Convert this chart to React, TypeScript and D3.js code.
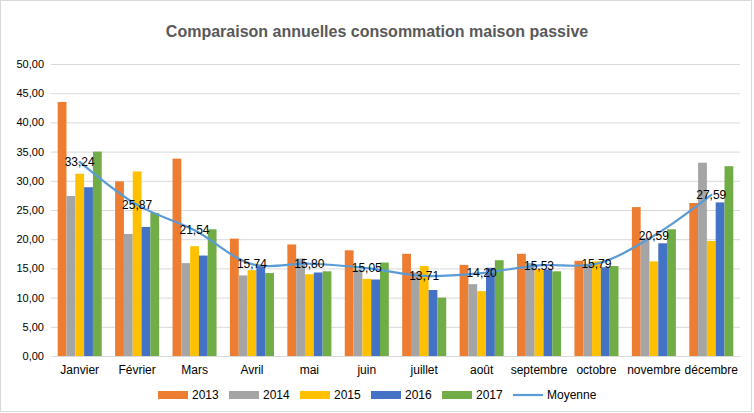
import React, { useEffect, useRef } from 'react';
import * as d3 from 'd3';

const months = [
  'Janvier', 'Février', 'Mars', 'Avril', 'mai', 'juin',
  'juillet', 'août', 'septembre', 'octobre', 'novembre', 'décembre',
];
const years = ['2013', '2014', '2015', '2016', '2017'];

const v2013 = [43.5, 29.9, 33.8, 20.1, 19.1, 18.1, 17.5, 15.6, 17.5, 16.3, 25.5, 26.2];
const v2014 = [27.4, 20.9, 15.9, 13.8, 16.7, 14.8, 14.3, 12.3, 15.9, 15.8, 20.2, 33.1];
const v2015 = [31.2, 31.6, 18.8, 14.7, 14.0, 13.2, 15.4, 11.1, 14.9, 16.2, 16.2, 19.7];
const v2016 = [28.9, 22.1, 17.2, 15.6, 14.3, 13.1, 11.3, 15.1, 14.8, 15.2, 19.3, 26.3];
const v2017 = [35.0, 24.5, 21.7, 14.2, 14.5, 16.0, 10.0, 16.4, 14.5, 15.4, 21.7, 32.5];
const moyenne = [33.24, 25.87, 21.54, 15.74, 15.8, 15.05, 13.71, 14.2, 15.53, 15.79, 20.59, 27.59];

const yTicks = [0, 5, 10, 15, 20, 25, 30, 35, 40, 45, 50];

const series = [v2013, v2014, v2015, v2016, v2017];
const colors = ['#ED7D31', '#A5A5A5', '#FFC000', '#4472C4', '#70AD47'];
const lineColor = '#5B9BD5';

const W = 754;
const H = 413;
const margin = { top: 64, left: 51, right: 14, bottom: 57 };

const fmt = (v: number) => v.toFixed(2).replace('.', ',');

const App: React.FC = () => {
  const ref = useRef<SVGSVGElement>(null);

  useEffect(() => {
    if (!ref.current) return;
    const svg = d3.select(ref.current);
    svg.selectAll('*').remove();

    const font = '"Liberation Sans", Arial, sans-serif';
    const x1 = W - margin.right;
    const y1 = H - margin.bottom;

    svg.append('rect')
      .attr('x', 0.5).attr('y', 0.5)
      .attr('width', W - 3).attr('height', H - 2)
      .attr('fill', '#fff').attr('stroke', '#D9D9D9');

    svg.append('text')
      .attr('x', 377).attr('y', 37)
      .attr('text-anchor', 'middle')
      .attr('font-family', font)
      .attr('font-weight', 'bold')
      .attr('font-size', 16)
      .attr('fill', '#595959')
      .text('Comparaison annuelles consommation maison passive');

    const x = d3.scaleBand<string>().domain(months).range([margin.left, x1]);
    const xs = d3.scaleBand<string>().domain(years)
      .range([0, x.bandwidth()]).paddingInner(0).paddingOuter(0.76);
    const y = d3.scaleLinear().domain([0, 50]).range([y1, margin.top]);

    const yAxisG = svg.append('g').attr('transform', `translate(${margin.left},0)`);
    yAxisG.call(
      d3.axisLeft(y).tickValues(yTicks).tickSize(-(x1 - margin.left)).tickPadding(7)
        .tickFormat((d) => fmt(d as number))
    );
    yAxisG.select('.domain').remove();
    yAxisG.selectAll('.tick line').attr('stroke', '#D9D9D9');
    yAxisG.selectAll('.tick text')
      .attr('font-family', font).attr('font-size', 11).attr('fill', '#000');

    const groups = svg.append('g').selectAll('g')
      .data(months)
      .enter().append('g')
      .attr('transform', (d) => `translate(${x(d)},0)`);

    groups.selectAll('rect')
      .data((_, i) => series.map((s, k) => ({ year: years[k], value: s[i], k })))
      .enter().append('rect')
      .attr('x', (d) => xs(d.year) || 0)
      .attr('width', xs.bandwidth())
      .attr('y', (d) => y(d.value))
      .attr('height', (d) => y1 - y(d.value))
      .attr('fill', (d) => colors[d.k]);

    const xAxisG = svg.append('g').attr('transform', `translate(0,${y1})`);
    xAxisG.call(d3.axisBottom(x).tickSize(0).tickPadding(9));
    xAxisG.select('.domain').attr('stroke', '#D9D9D9');
    xAxisG.selectAll('.tick text')
      .attr('font-family', font).attr('font-size', 12).attr('fill', '#000');

    const cx = (m: string) => (x(m) || 0) + x.bandwidth() / 2;
    const line = d3.line<number>()
      .x((_, i) => cx(months[i]))
      .y((d) => y(d))
      .curve(d3.curveCatmullRom.alpha(0.5));

    svg.append('path')
      .attr('d', line(moyenne) || '')
      .attr('fill', 'none')
      .attr('stroke', lineColor)
      .attr('stroke-width', 2.2)
      .attr('stroke-linejoin', 'round')
      .attr('stroke-linecap', 'round');

    svg.append('g').selectAll('text')
      .data(moyenne)
      .enter().append('text')
      .attr('x', (_, i) => cx(months[i]))
      .attr('y', (d) => y(d))
      .attr('dy', '0.35em')
      .attr('text-anchor', 'middle')
      .attr('font-family', font)
      .attr('font-size', 12)
      .attr('fill', '#000')
      .text((d) => fmt(d));

    // legend
    const legendItems = [...years, 'Moyenne'];
    const lg = svg.append('g').selectAll('g')
      .data(legendItems)
      .enter().append('g')
      .attr('transform', (_, i) => `translate(${158 + i * 71},395)`);

    lg.filter((_, i) => i < 5).append('rect')
      .attr('x', 0).attr('y', -4)
      .attr('width', 30).attr('height', 8)
      .attr('fill', (_, i) => colors[i]);

    lg.filter((_, i) => i === 5).append('line')
      .attr('x1', 0).attr('x2', 30)
      .attr('stroke', lineColor).attr('stroke-width', 2.2);

    lg.append('text')
      .attr('x', 34).attr('dy', '0.35em')
      .attr('font-family', font).attr('font-size', 12).attr('fill', '#000')
      .text((d) => d);
  }, []);

  return (
    <svg
      ref={ref}
      width={W}
      height={H}
      style={{ position: 'absolute', left: 0, top: 0, background: '#fff' }}
    />
  );
};

export default App;
